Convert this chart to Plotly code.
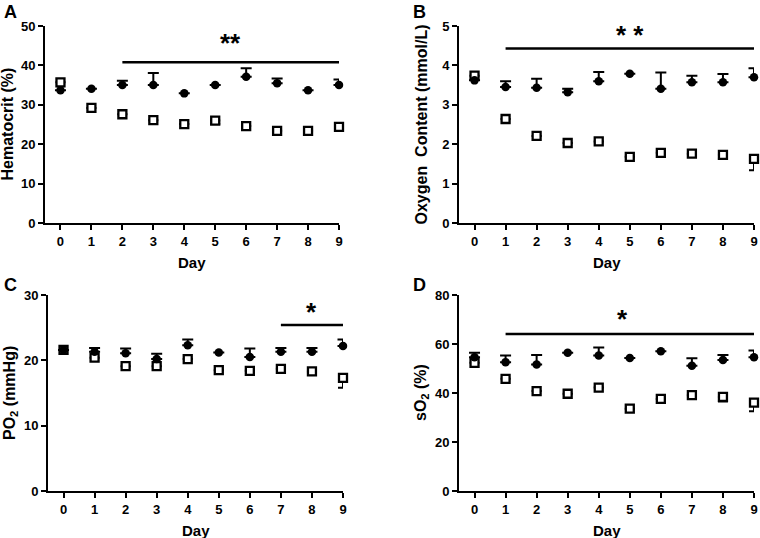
import plotly.graph_objects as go

# ---------------- data ----------------
days = [0, 1, 2, 3, 4, 5, 6, 7, 8, 9]

# Panel A: Hematocrit (%)
hct_ctrl = [33.7, 34.1, 35.0, 35.0, 32.9, 35.0, 37.1, 35.5, 33.7, 35.0]
hct_ctrl_err = [0, 0, 1.1, 3.1, 0, 0, 2.2, 1.2, 0, 1.4]
hct_trt = [35.7, 29.2, 27.6, 26.1, 25.1, 26.0, 24.6, 23.4, 23.4, 24.4]
hct_trt_err = [0, 0, 0, 0, 0, 0.8, 0, 0, 0, 0.8]

# Panel B: Oxygen content (mmol/L)
oc_ctrl = [3.62, 3.45, 3.43, 3.32, 3.60, 3.79, 3.41, 3.57, 3.57, 3.70]
oc_ctrl_err = [0, 0.15, 0.23, 0.09, 0.23, 0, 0.41, 0.17, 0.21, 0.23]
oc_trt = [3.74, 2.64, 2.21, 2.03, 2.07, 1.68, 1.78, 1.76, 1.73, 1.63]
oc_trt_err = [0, 0, 0, 0, 0, 0, 0, 0, 0.1, 0.29]

# Panel C: PO2 (mmHg)
po2_ctrl = [21.6, 21.3, 21.1, 20.2, 22.3, 21.2, 20.5, 21.3, 21.3, 22.2]
po2_ctrl_err = [0, 0.6, 0.7, 0.8, 0.9, 0, 1.3, 0.6, 0.6, 1.0]
po2_trt = [21.6, 20.4, 19.1, 19.1, 20.2, 18.5, 18.4, 18.7, 18.3, 17.3]
po2_trt_err = [0, 0, 0, 0, 0, 0, 0, 0, 0, 1.5]

# Panel D: sO2 (%)
so2_ctrl = [54.6, 52.6, 51.6, 56.4, 55.3, 54.3, 57.0, 51.1, 53.5, 54.6]
so2_ctrl_err = [1.8, 2.7, 3.9, 0, 3.3, 0, 0, 3.1, 2.0, 2.7]
so2_trt = [52.3, 45.8, 40.8, 39.7, 42.2, 33.6, 37.6, 39.1, 38.4, 36.1]
so2_trt_err = [0, 0, 0, 0, 0, 0, 0, 0, 1.9, 3.6]

# significance bars: (x start, x end, y), label and label position
sig_A = ([2, 9], [40.8, 40.8]); star_A = ("**", 5.5, 45.8)
sig_B = ([1, 9], [4.43, 4.43]); star_B = ("*\u00a0*", 5.0, 4.77)
sig_C = ([7, 9], [25.4, 25.4]); star_C = ("*", 8.0, 27.4)
sig_D = ([1, 9], [64.1, 64.1]); star_D = ("*", 4.75, 70.2)

y_titles = ["Hematocrit (%)", "Oxygen\u00a0\u00a0Content (mmol/L)",
            "PO<sub>2</sub> (mmHg)", "sO<sub>2</sub> (%)"]
y_ranges = [[0, 50], [0, 5], [0, 30], [0, 80]]
y_dticks = [10, 1, 10, 20]
panel_letters = ["A", "B", "C", "D"]

# ---------------- layout geometry ----------------
W, H = 760, 538
px_x = [(45, 339), (459, 754), (48, 343), (459, 754)]
px_y = [(26, 223), (26, 223), (295, 491), (295, 491)]

FONT = "Liberation Sans, Arial, Helvetica, sans-serif"

fig = go.Figure()

panels = [
    (hct_ctrl, hct_ctrl_err, hct_trt, hct_trt_err, sig_A, star_A),
    (oc_ctrl, oc_ctrl_err, oc_trt, oc_trt_err, sig_B, star_B),
    (po2_ctrl, po2_ctrl_err, po2_trt, po2_trt_err, sig_C, star_C),
    (so2_ctrl, so2_ctrl_err, so2_trt, so2_trt_err, sig_D, star_D),
]

def nz(v):
    return [e if e > 0 else None for e in v]

annotations = []
for i, (ctrl, ctrl_err, trt, trt_err, sig, star) in enumerate(panels):
    n = i + 1
    xa = "x" if n == 1 else f"x{n}"
    ya = "y" if n == 1 else f"y{n}"
    # open squares (treated)
    fig.add_trace(go.Scatter(
        x=days, y=trt, xaxis=xa, yaxis=ya, mode="markers",
        marker=dict(symbol="square", size=8, color="white",
                    line=dict(color="black", width=2.3)),
        error_y=dict(type="data", symmetric=False,
                     array=[None] * len(days), arrayminus=nz(trt_err),
                     color="black", thickness=2, width=5),
        cliponaxis=False, showlegend=False, hoverinfo="skip"))
    # filled circles (control)
    fig.add_trace(go.Scatter(
        x=days, y=ctrl, xaxis=xa, yaxis=ya, mode="markers",
        marker=dict(symbol="circle", size=8.5, color="black"),
        error_y=dict(type="data", symmetric=False,
                     array=nz(ctrl_err), arrayminus=[None] * len(days),
                     color="black", thickness=2, width=5.5),
        cliponaxis=False, showlegend=False, hoverinfo="skip"))
    # significance line
    fig.add_trace(go.Scatter(
        x=sig[0], y=sig[1], xaxis=xa, yaxis=ya, mode="lines",
        line=dict(color="black", width=2.5),
        cliponaxis=False, showlegend=False, hoverinfo="skip"))
    annotations.append(dict(
        text=f"<b>{star[0]}</b>", x=star[1], y=star[2], xref=xa, yref=ya,
        showarrow=False, font=dict(family=FONT, size=26, color="black"),
        xanchor="center", yanchor="middle"))

    x0, x1 = px_x[i]
    y0, y1 = px_y[i]
    dom_x = [x0 / W, x1 / W]
    dom_y = [1 - y1 / H, 1 - y0 / H]
    axis_common = dict(
        showgrid=False, zeroline=False, showline=True, linecolor="black",
        linewidth=2, ticks="outside", ticklen=5, tickwidth=2,
        tickcolor="black", automargin=False,
        tickfont=dict(family=FONT, size=13, color="black", weight="bold"),
    )
    fig.layout[f"xaxis{'' if n == 1 else n}"] = dict(
        domain=dom_x, anchor=ya, range=[-0.5, 9], tickmode="array",
        tickvals=days, ticktext=[str(d) for d in days], **axis_common)
    fig.layout[f"yaxis{'' if n == 1 else n}"] = dict(
        domain=dom_y, anchor=xa, range=y_ranges[i], dtick=y_dticks[i],
        tick0=0, **axis_common)

    # x title "Day"
    annotations.append(dict(
        text="<b>Day</b>", x=(x0 + x1) / 2 / W, y=1 - (y1 + 39) / H,
        xref="paper", yref="paper", showarrow=False,
        font=dict(family=FONT, size=15, color="black"),
        xanchor="center", yanchor="middle"))
    # y title
    annotations.append(dict(
        text=f"<b>{y_titles[i]}</b>", x=(x0 - 38) / W,
        y=1 - (y0 + y1) / 2 / H, xref="paper", yref="paper",
        showarrow=False, textangle=-90,
        font=dict(family=FONT, size=16, color="black"),
        xanchor="center", yanchor="middle"))
    # panel letter
    lx = 2 if i in (0, 2) else 411
    ly = 0 if i < 2 else 273
    annotations.append(dict(
        text=f"<b>{panel_letters[i]}</b>", x=lx / W, y=1 - ly / H,
        xref="paper", yref="paper", showarrow=False,
        font=dict(family=FONT, size=18, color="black"),
        xanchor="left", yanchor="top"))

fig.update_layout(
    width=W, height=H, margin=dict(l=0, r=0, t=0, b=0),
    paper_bgcolor="white", plot_bgcolor="white",
    annotations=annotations, showlegend=False,
)

fig.write_html(
    "out.html",
    config={"displayModeBar": False},
    post_script="document.body.style.margin='0px';"
                "document.body.style.overflow='hidden';",
)
